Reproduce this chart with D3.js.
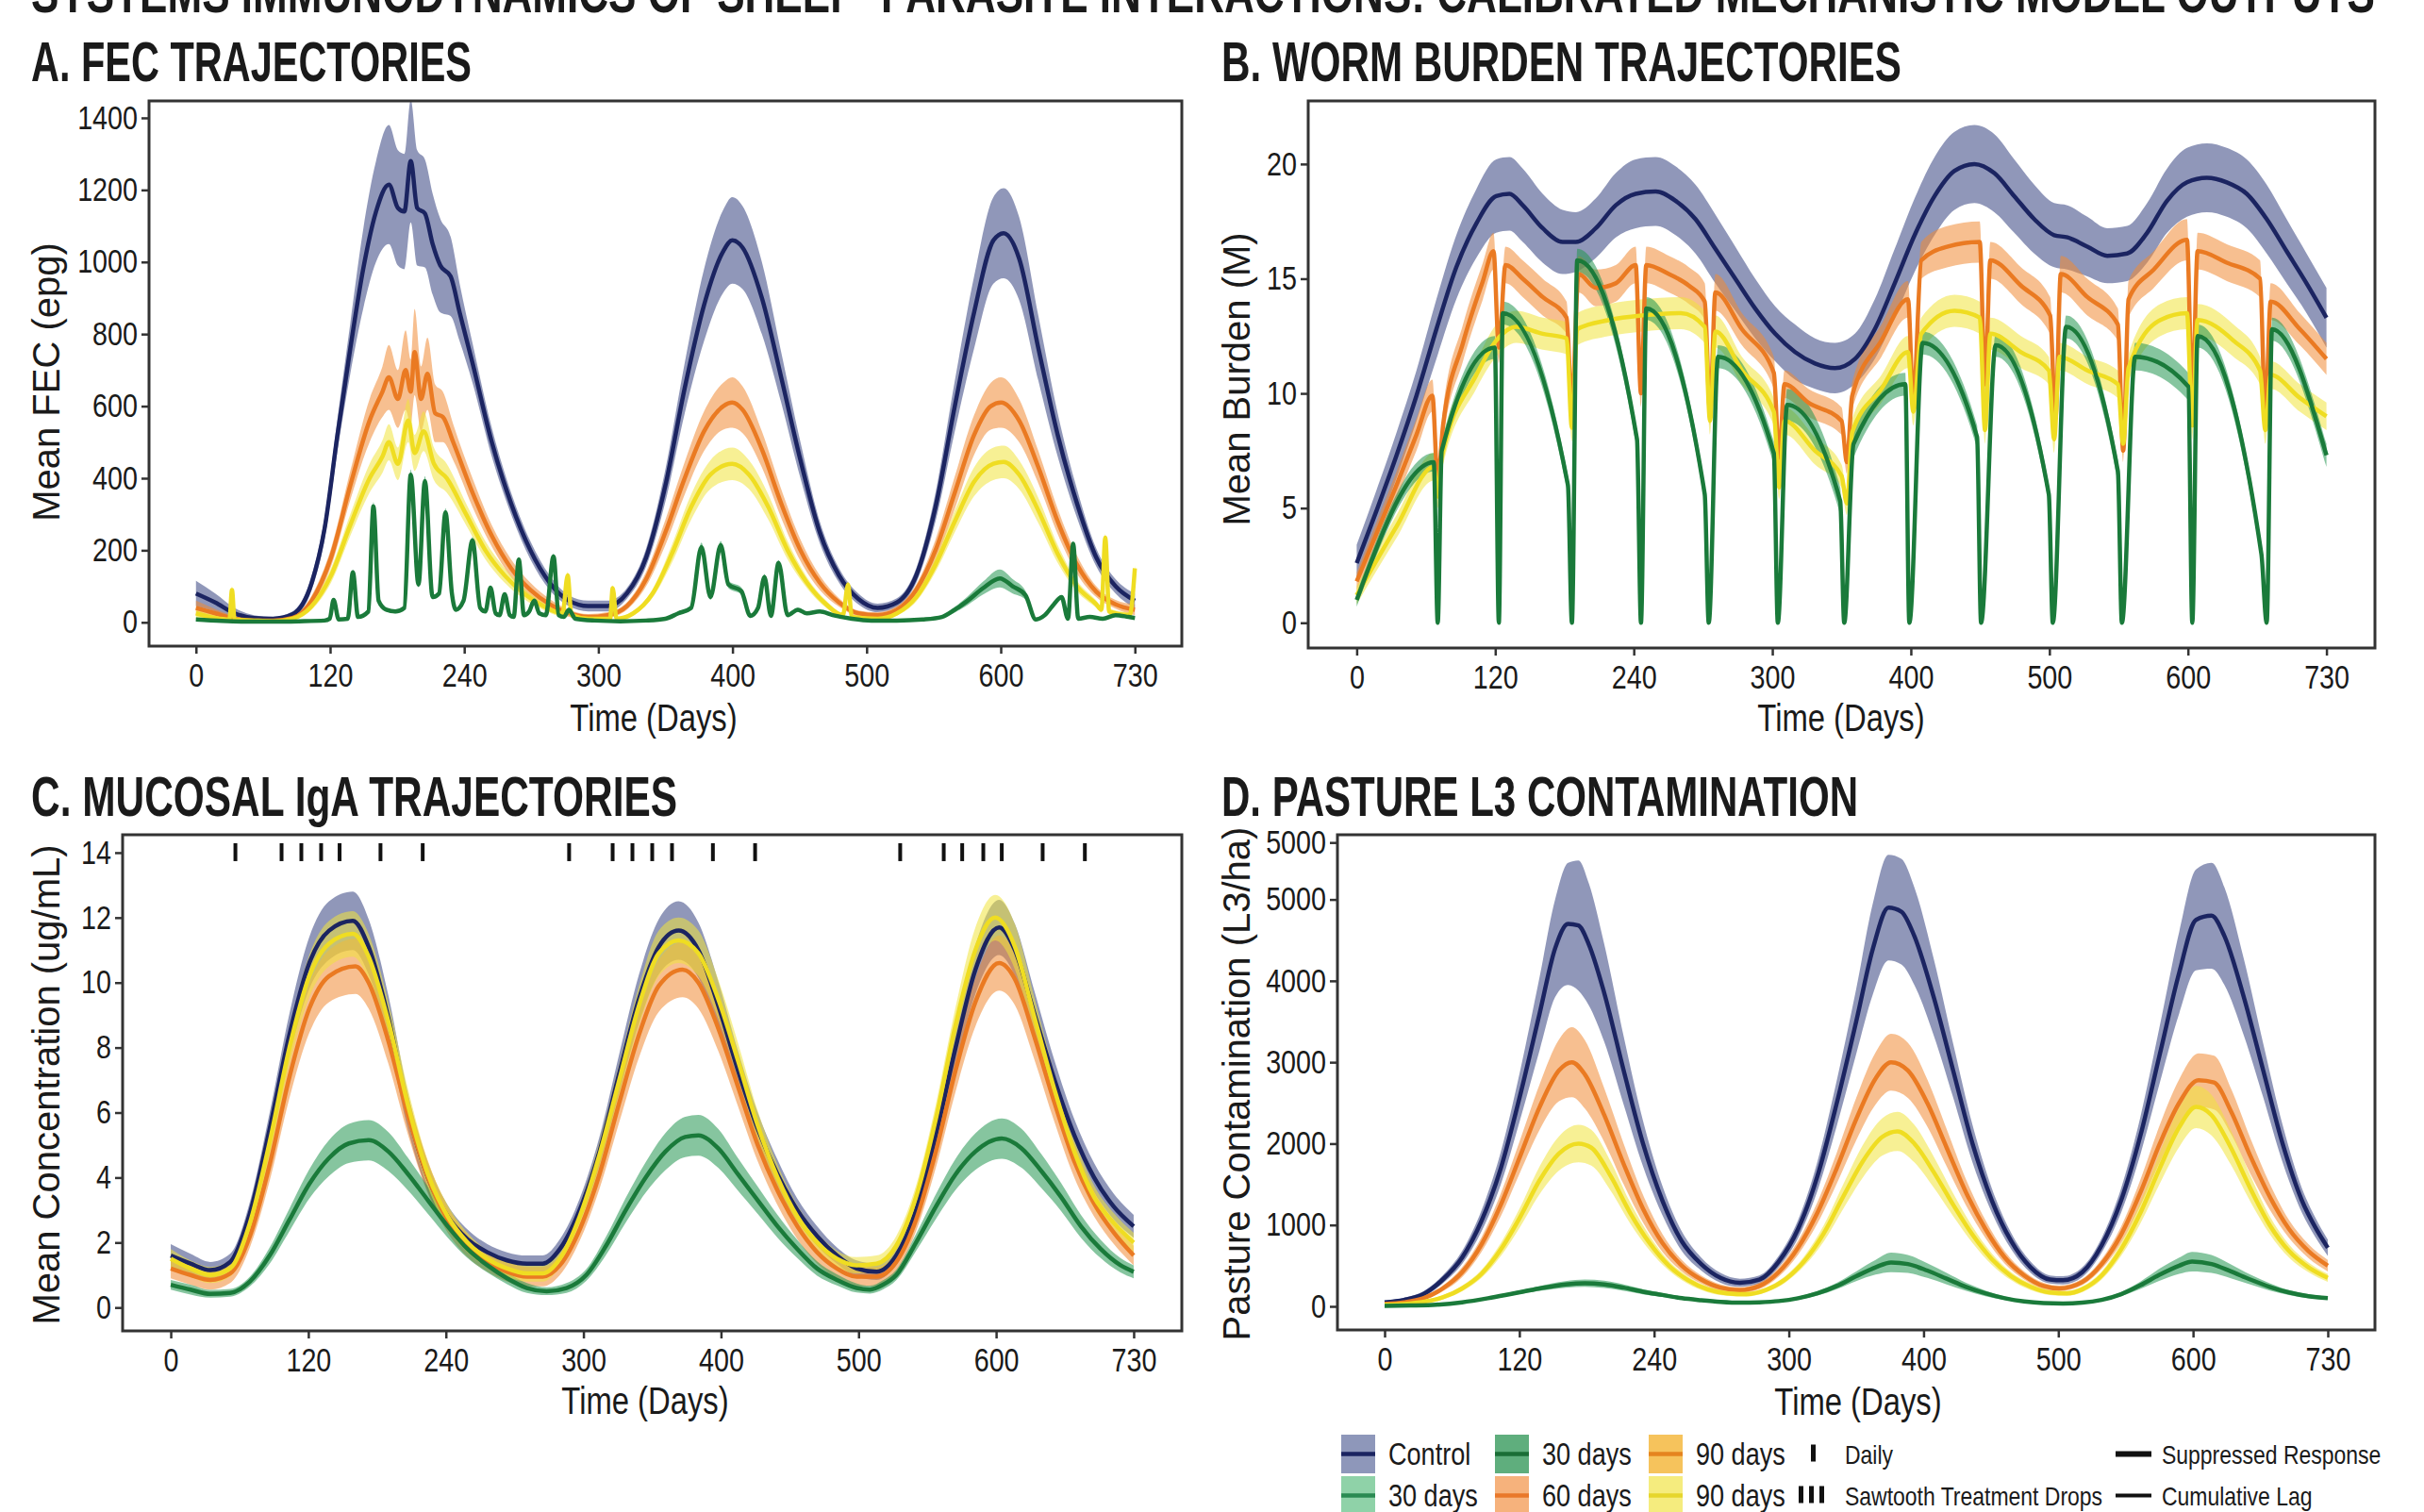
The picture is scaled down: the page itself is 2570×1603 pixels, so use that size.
<!DOCTYPE html>
<html>
<head>
<meta charset="utf-8">
<script src="https://cdn.jsdelivr.net/npm/d3@7"></script>
<style>
  body { margin: 0; background: #fff; }
  svg text { font-family: 'Liberation Sans', Arial, sans-serif; fill: #1a1a1a; }
</style>
</head>
<body>
<svg id="chart" width="2570" height="1603"></svg>
<script>
// x axis: days 0..730, eight evenly spaced breaks with these labels
var xTickLabels = ['0', '120', '240', '300', '400', '500', '600', '730'];

// ---- A. FEC (epg) : [day, mean, half-band]
var fecControl = [[0,80,35],[15,55,25],[30,25,15],[45,12,8],[60,10,5],[75,22,8],[90,110,20],[100,260,30],[110,520,45],[120,760,70],[130,980,110],[140,1140,140],[150,1215,165],[157,1150,160],[162,1140,160],[167,1280,170],[172,1150,160],[178,1135,150],[184,1050,140],[190,990,130],[198,960,110],[205,860,80],[215,720,55],[230,500,40],[245,330,30],[260,200,25],[275,110,20],[290,60,15],[305,45,15],[320,45,15],[335,80,15],[350,180,25],[365,380,45],[380,650,70],[395,880,100],[410,1030,115],[417,1060,120],[425,1040,115],[440,900,100],[455,680,70],[470,450,50],[485,250,30],[500,130,20],[515,65,15],[530,40,12],[545,55,12],[560,130,20],[575,320,40],[590,600,70],[605,860,100],[620,1060,120],[628,1080,125],[640,1010,115],[655,760,90],[670,520,60],[685,330,40],[700,180,25],[715,100,20],[730,60,20]];
var fec60 = [[0,40,20],[15,25,12],[30,10,8],[45,5,5],[60,5,5],[75,12,5],[90,60,15],[105,180,25],[120,380,40],[135,560,60],[145,640,70],[150,680,90],[157,620,80],[163,700,110],[167,640,90],[170,750,120],[175,620,90],[180,690,100],[186,580,80],[192,570,70],[200,500,50],[215,360,40],[230,240,30],[245,150,25],[260,90,20],[275,50,15],[290,25,10],[305,15,8],[320,20,8],[335,45,10],[350,120,20],[365,250,35],[380,400,45],[395,530,55],[410,600,65],[417,610,70],[425,590,65],[440,480,50],[455,330,40],[470,200,30],[485,110,20],[500,55,12],[515,25,8],[530,20,8],[545,35,10],[560,90,15],[575,200,30],[590,360,45],[605,520,55],[618,600,65],[626,610,70],[640,560,60],[655,430,45],[670,280,35],[685,160,25],[700,85,15],[715,50,12],[730,35,15]];
var fec90 = [[0,25,15],[15,12,8],[26,8,5],[28,90,10],[30,8,5],[45,5,4],[60,3,3],[75,10,4],[90,45,10],[105,130,20],[120,270,30],[135,400,40],[145,460,45],[150,500,50],[157,440,45],[165,560,60],[170,470,50],[177,530,55],[185,440,45],[195,400,40],[210,300,30],[225,200,25],[240,130,20],[255,80,15],[270,45,10],[285,25,8],[289,130,10],[292,20,6],[305,10,5],[322,10,5],[324,95,8],[327,10,5],[340,25,6],[355,80,12],[370,190,25],[385,320,35],[400,410,40],[417,440,45],[430,410,40],[445,320,35],[460,200,25],[475,110,15],[490,50,10],[503,20,6],[507,105,8],[510,15,5],[530,10,5],[545,25,6],[560,70,12],[575,160,20],[590,280,30],[605,390,40],[620,440,45],[628,445,45],[640,410,40],[655,310,35],[670,190,25],[685,100,15],[700,50,10],[704,35,8],[707,235,10],[710,30,8],[726,20,8],[730,150,10]];
var fec30 = [[0,8,5],[20,4,3],[40,2,2],[60,2,2],[80,3,2],[100,5,3],[104,10,3],[107,62,5],[111,8,3],[118,10,3],[122,139,8],[126,15,4],[134,30,5],[138,322,12],[142,60,6],[148,35,5],[155,30,5],[162,40,6],[167,410,14],[173,105,8],[178,392,14],[184,70,6],[189,80,6],[194,305,12],[199,80,6],[202,35,5],[208,60,5],[215,227,10],[221,40,5],[225,30,4],[229,96,6],[233,25,4],[236,20,4],[240,78,5],[244,20,4],[247,15,4],[251,174,8],[255,20,4],[259,30,4],[263,60,5],[267,25,4],[272,20,4],[278,183,8],[282,20,4],[286,15,4],[290,35,5],[295,10,3],[310,5,3],[330,3,2],[350,5,3],[365,10,3],[375,25,5],[385,40,6],[393,209,12],[400,70,8],[408,214,12],[414,105,10],[424,87,10],[431,18,6],[437,40,6],[442,126,8],[447,18,4],[453,165,8],[460,20,4],[468,35,5],[475,25,4],[485,30,4],[495,20,4],[510,10,3],[525,5,3],[545,5,3],[565,8,3],[580,15,4],[590,35,8],[600,60,12],[612,95,18],[625,122,25],[635,100,20],[645,75,12],[653,8,5],[660,20,4],[667,50,5],[673,70,5],[678,10,4],[682,218,8],[686,10,4],[695,15,4],[705,10,3],[715,20,4],[725,15,4],[730,12,4]];

// ---- B. worm burden (M)
var wormControl = [[0,2.6,0.8],[15,4.9,0.9],[30,7.3,1.0],[45,9.9,1.1],[60,12.8,1.3],[75,15.5,1.4],[90,17.4,1.5],[105,18.6,1.6],[115,18.7,1.6],[125,18.2,1.6],[140,17.2,1.5],[155,16.6,1.4],[165,16.6,1.3],[180,17.2,1.3],[195,18.2,1.4],[210,18.7,1.5],[225,18.8,1.5],[240,18.4,1.5],[255,17.6,1.5],[270,16.3,1.5],[285,15.0,1.4],[300,13.7,1.3],[315,12.6,1.2],[330,11.8,1.2],[345,11.3,1.1],[360,11.1,1.1],[375,11.5,1.1],[390,12.8,1.3],[405,14.8,1.5],[420,16.9,1.6],[435,18.6,1.7],[450,19.7,1.7],[465,20.0,1.7],[480,19.6,1.7],[495,18.6,1.6],[510,17.6,1.5],[525,16.9,1.4],[535,16.8,1.4],[550,16.4,1.3],[565,16.0,1.2],[580,16.1,1.2],[595,17.0,1.3],[610,18.4,1.4],[625,19.2,1.5],[640,19.4,1.5],[655,19.2,1.5],[670,18.7,1.5],[685,17.6,1.5],[700,16.2,1.4],[715,14.8,1.3],[730,13.3,1.3]];
var worm60 = [[0,1.8,0.4],[15,3.9,0.5],[30,6.0,0.6],[45,8.2,0.7],[57,9.9,0.7],[61,6.2,0.6],[65,8.6,0.7],[80,12.2,0.8],[95,14.9,0.8],[103,16.2,0.8],[107,12.0,0.7],[112,15.6,0.8],[125,15.0,0.8],[140,14.2,0.8],[158,13.3,0.7],[162,9.5,0.6],[167,15.2,0.8],[180,14.6,0.8],[195,14.8,0.8],[210,15.6,0.8],[214,10.0,0.6],[218,15.6,0.8],[235,15.2,0.8],[250,14.7,0.8],[262,14.0,0.8],[266,9.2,0.6],[270,14.4,0.8],[290,12.8,0.7],[314,10.9,0.7],[318,7.2,0.5],[322,10.4,0.6],[340,9.6,0.6],[365,8.8,0.6],[369,7.0,0.5],[373,9.9,0.6],[395,12.3,0.7],[415,14.1,0.8],[419,9.7,0.6],[425,15.8,0.8],[445,16.4,0.9],[469,16.6,0.9],[473,10.4,0.6],[477,15.8,0.8],[500,14.7,0.8],[522,13.4,0.8],[526,8.9,0.6],[530,15.2,0.8],[550,14.2,0.8],[573,13.0,0.7],[577,7.5,0.5],[581,14.1,0.8],[600,15.4,0.8],[625,16.7,0.9],[629,9.8,0.6],[633,16.2,0.8],[655,15.7,0.8],[680,15.0,0.8],[684,9.1,0.6],[688,14.0,0.8],[710,12.8,0.7],[730,11.5,0.7]];
var worm90 = [[0,1.2,0.4],[30,4.2,0.5],[58,6.8,0.6],[61,5.5,0.5],[64,7.2,0.6],[90,10.8,0.6],[105,12.3,0.7],[120,12.9,0.7],[140,12.6,0.7],[158,12.4,0.7],[162,8.5,0.6],[166,12.8,0.7],[190,13.2,0.7],[215,13.4,0.7],[244,13.5,0.7],[262,12.9,0.7],[266,8.8,0.6],[270,12.7,0.7],[290,11.0,0.6],[314,9.2,0.6],[318,5.9,0.5],[322,8.8,0.6],[345,7.5,0.6],[365,6.4,0.5],[369,5.2,0.5],[373,8.3,0.6],[395,10.2,0.6],[415,11.8,0.7],[419,9.2,0.6],[425,12.6,0.7],[450,13.6,0.7],[469,13.3,0.7],[473,8.4,0.6],[477,12.6,0.7],[500,11.8,0.7],[521,11.0,0.6],[525,8.0,0.6],[529,11.6,0.6],[550,11.0,0.6],[573,10.4,0.6],[577,7.8,0.5],[581,11.1,0.6],[605,13.2,0.7],[625,13.5,0.7],[629,8.6,0.6],[633,13.2,0.7],[660,12.3,0.7],[680,11.0,0.6],[684,8.4,0.6],[688,10.8,0.6],[710,9.8,0.6],[730,9.0,0.6]];
var worm30 = [[0,1.0,0.3],[58,7.0,0.4],[61,0,0],[64,7.5,0.4],[104,12.0,0.5],[107,0,0],[110,13.5,0.5],[159,6.0,0.4],[162,0,0],[166,15.8,0.5],[211,8.0,0.4],[214,0,0],[218,13.7,0.5],[262,5.6,0.4],[265,0,0],[272,11.6,0.5],[314,7.4,0.5],[317,0,0],[324,9.5,0.7],[364,5.3,0.6],[367,0,0],[374,7.8,0.6],[413,10.4,0.5],[416,0,0],[426,12.2,0.5],[467,8.1,0.5],[470,0,0],[481,12.1,0.5],[521,5.6,0.4],[524,0,0],[534,12.9,0.5],[573,6.6,0.5],[576,0,0],[586,11.6,0.6],[626,10.3,0.6],[629,0,0],[633,12.5,0.5],[681,3.0,0.4],[685,0,0],[689,12.8,0.5],[730,7.3,0.5]];

// ---- C. mucosal IgA (ug/mL)
var igaControl = [[0,1.6,0.35],[15,1.35,0.3],[30,1.15,0.25],[45,1.4,0.25],[60,2.9,0.35],[75,5.5,0.5],[90,8.4,0.65],[105,10.6,0.8],[120,11.6,0.9],[138,11.9,0.9],[150,11.1,0.85],[165,8.9,0.7],[180,6.0,0.55],[195,4.0,0.45],[210,2.8,0.35],[225,2.1,0.3],[240,1.7,0.25],[255,1.45,0.25],[270,1.35,0.25],[282,1.35,0.25],[295,1.8,0.3],[310,3.0,0.35],[325,4.8,0.45],[340,7.2,0.6],[355,9.5,0.75],[370,11.1,0.85],[385,11.6,0.9],[400,11.0,0.85],[415,9.3,0.75],[430,7.3,0.6],[445,5.5,0.5],[460,4.1,0.45],[475,3.0,0.35],[490,2.2,0.3],[505,1.6,0.25],[520,1.2,0.25],[535,1.1,0.25],[550,1.6,0.25],[565,3.0,0.35],[580,5.3,0.45],[595,8.0,0.6],[610,10.4,0.75],[628,11.7,0.85],[640,11.0,0.8],[655,9.0,0.7],[670,7.0,0.6],[685,5.3,0.5],[700,4.0,0.45],[715,3.1,0.4],[730,2.5,0.35]];
var iga60 = [[0,1.2,0.3],[15,1.0,0.3],[30,0.85,0.3],[45,1.05,0.3],[60,2.2,0.35],[75,4.4,0.5],[90,7.1,0.65],[105,9.2,0.75],[120,10.2,0.8],[140,10.5,0.85],[150,10.0,0.8],[165,8.2,0.7],[180,5.9,0.6],[195,4.0,0.5],[210,2.7,0.4],[225,1.9,0.35],[240,1.4,0.3],[255,1.1,0.3],[270,0.95,0.3],[282,0.95,0.3],[295,1.3,0.3],[310,2.4,0.35],[325,4.1,0.45],[340,6.3,0.6],[355,8.4,0.7],[370,9.9,0.8],[388,10.4,0.85],[400,10.0,0.8],[415,8.6,0.7],[430,6.8,0.6],[445,5.0,0.5],[460,3.6,0.45],[475,2.5,0.4],[490,1.7,0.35],[505,1.2,0.3],[520,0.95,0.3],[535,0.95,0.3],[550,1.4,0.3],[565,2.7,0.35],[580,4.8,0.5],[595,7.3,0.65],[610,9.4,0.75],[628,10.6,0.85],[640,10.1,0.8],[655,8.3,0.7],[670,6.3,0.6],[685,4.5,0.5],[700,3.2,0.4],[715,2.3,0.35],[730,1.6,0.3]];
var iga90 = [[0,1.5,0.3],[15,1.2,0.25],[30,1.0,0.25],[45,1.2,0.25],[60,2.6,0.3],[75,5.1,0.45],[90,8.0,0.55],[105,10.2,0.65],[120,11.2,0.7],[138,11.5,0.7],[150,10.8,0.7],[165,8.8,0.6],[180,6.2,0.5],[195,4.1,0.4],[210,2.8,0.35],[225,2.0,0.3],[240,1.5,0.25],[255,1.2,0.25],[270,1.05,0.25],[282,1.05,0.25],[295,1.5,0.25],[310,2.8,0.35],[325,4.7,0.4],[340,7.0,0.5],[355,9.3,0.6],[370,10.9,0.7],[385,11.3,0.7],[400,10.9,0.7],[415,9.5,0.6],[430,7.6,0.55],[445,5.6,0.45],[460,4.0,0.4],[475,2.8,0.35],[490,2.0,0.3],[505,1.5,0.25],[520,1.3,0.25],[535,1.35,0.25],[550,1.9,0.3],[565,3.4,0.35],[580,5.8,0.45],[595,8.7,0.55],[610,11.0,0.7],[625,12.0,0.7],[640,11.1,0.7],[655,8.9,0.6],[670,6.7,0.5],[685,4.8,0.4],[700,3.4,0.35],[715,2.6,0.3],[730,2.0,0.3]];
var iga30 = [[0,0.7,0.15],[15,0.55,0.15],[30,0.42,0.12],[45,0.45,0.12],[60,0.8,0.15],[75,1.6,0.25],[90,2.7,0.35],[105,3.8,0.45],[120,4.6,0.55],[135,5.05,0.6],[150,5.15,0.62],[165,4.8,0.6],[180,4.1,0.5],[195,3.3,0.42],[210,2.5,0.35],[225,1.8,0.28],[240,1.3,0.22],[255,0.9,0.18],[270,0.6,0.15],[285,0.5,0.12],[300,0.6,0.15],[315,1.0,0.18],[330,1.9,0.28],[345,3.0,0.38],[360,4.0,0.47],[375,4.8,0.57],[390,5.25,0.62],[400,5.3,0.63],[415,4.9,0.6],[430,4.1,0.5],[445,3.3,0.42],[460,2.5,0.35],[475,1.8,0.28],[490,1.2,0.22],[505,0.85,0.17],[520,0.6,0.14],[530,0.55,0.12],[540,0.7,0.14],[550,1.0,0.16],[565,2.0,0.26],[580,3.1,0.38],[595,4.1,0.48],[610,4.8,0.56],[630,5.2,0.62],[645,4.9,0.6],[660,4.2,0.52],[675,3.4,0.43],[690,2.5,0.35],[705,1.8,0.28],[720,1.3,0.22],[730,1.1,0.2]];
var igaDailyDays = [49, 84, 99, 114, 128, 159, 191, 302, 335, 350, 365, 380, 411, 443, 553, 586, 600, 616, 630, 661, 693];

// ---- D. pasture L3 (L3/ha)
var l3Control = [[0,50,20],[15,80,25],[30,150,35],[45,330,50],[60,600,80],[75,1050,130],[90,1700,200],[105,2600,300],[120,3600,450],[132,4400,600],[142,4700,750],[150,4680,800],[158,4450,750],[170,3850,600],[185,2900,420],[200,2000,280],[215,1300,180],[230,800,120],[245,520,80],[260,350,60],[275,290,50],[290,330,50],[305,550,70],[320,950,110],[335,1600,180],[350,2500,280],[365,3500,400],[378,4400,560],[390,4900,650],[400,4850,650],[410,4550,600],[425,3800,470],[440,2900,330],[455,2000,230],[470,1300,150],[485,800,100],[500,480,70],[515,330,50],[525,320,50],[540,420,60],[555,750,90],[570,1300,150],[585,2100,230],[600,3100,350],[615,4100,500],[628,4750,620],[640,4800,650],[650,4550,600],[665,3800,470],[680,2900,330],[695,2000,230],[710,1300,150],[720,980,120],[730,720,100]];
var l360 = [[0,30,15],[15,50,20],[30,100,25],[45,220,35],[60,420,60],[75,760,90],[90,1250,140],[105,1850,200],[120,2450,280],[135,2900,380],[145,3000,430],[155,2850,420],[170,2350,330],[185,1750,250],[200,1200,170],[215,780,110],[230,500,70],[245,330,50],[260,230,40],[275,200,35],[290,250,40],[305,420,55],[320,720,85],[335,1150,130],[350,1700,190],[365,2300,260],[380,2800,320],[392,3000,350],[405,2900,340],[420,2500,290],[435,1950,230],[450,1400,160],[465,950,110],[480,600,75],[495,380,50],[510,250,40],[522,220,35],[540,300,40],[555,520,60],[570,880,100],[585,1400,160],[600,2000,230],[615,2500,290],[630,2780,330],[642,2750,330],[655,2400,280],[670,1850,220],[685,1350,160],[700,950,110],[715,680,85],[730,500,70]];
var l390 = [[0,20,10],[15,30,15],[30,55,20],[45,110,25],[60,220,35],[75,400,50],[90,700,80],[105,1100,120],[120,1550,170],[135,1880,210],[150,2000,230],[160,1950,220],[175,1600,180],[190,1150,130],[205,780,90],[220,500,60],[235,320,45],[250,210,35],[265,160,30],[280,150,30],[295,200,30],[310,330,40],[325,560,60],[340,900,100],[355,1350,150],[370,1780,200],[385,2080,230],[397,2150,240],[410,2000,230],[425,1650,190],[440,1250,140],[455,880,100],[470,580,70],[485,370,50],[500,240,40],[515,170,30],[528,160,30],[540,210,35],[555,380,50],[570,700,80],[585,1150,130],[600,1700,190],[615,2200,240],[628,2450,260],[640,2350,250],[655,1950,210],[670,1450,160],[685,1000,110],[700,680,80],[715,480,60],[730,350,50]];
var l330 = [[0,5,5],[20,10,5],[40,20,6],[60,50,10],[80,100,15],[100,160,22],[120,220,30],[140,270,40],[155,285,45],[170,270,45],[185,230,40],[200,180,32],[215,140,25],[230,100,20],[245,75,15],[260,55,12],[275,45,10],[290,50,10],[305,65,12],[320,100,18],[335,160,28],[350,250,40],[365,370,60],[380,480,90],[392,540,120],[405,520,110],[420,440,90],[435,340,70],[450,240,50],[465,160,35],[480,100,22],[495,60,15],[510,40,10],[525,35,10],[540,45,10],[555,80,15],[570,150,25],[585,260,45],[600,390,75],[615,500,100],[625,550,120],[640,520,110],[655,430,85],[670,330,60],[685,240,45],[700,170,30],[715,125,25],[730,100,20]];

var fecTicks = [0, 200, 400, 600, 800, 1000, 1200, 1400];
var wormTicks = [0, 5, 10, 15, 20];
var igaTicks = [0, 2, 4, 6, 8, 10, 12, 14];
var l3Ticks = [0, 1000, 2000, 3000, 4000, 5000, 5700];
var l3TickLabels = ['0', '1000', '2000', '3000', '4000', '5000', '5000'];

var colors = {
  control: { line: '#1b2461', band: '#34427f' },
  d30:     { line: '#1a7a3a', band: '#239550' },
  d60:     { line: '#ea7a22', band: '#f08a35' },
  d90:     { line: '#efdd22', band: '#f1e43c' }
};
var bandOpacity = 0.55;
var narrowK = 0.82;   // condensed look of the original labels

var svg = d3.select('#chart');
var xDomain = [-36.5, 766.5];
var xTickValues = xTickLabels.map(function(d, i) { return i * 730 / 7; });

// squeeze text horizontally (no condensed font installed)
function narrow(sel) {
  sel.each(function() {
    var len = this.getComputedTextLength();
    d3.select(this).attr('textLength', len * narrowK).attr('lengthAdjust', 'spacingAndGlyphs');
  });
}

var panels = [
  { id: 'A', title: 'A. FEC TRAJECTORIES', titleW: 467, titleX: 33, titleY: 86,
    box: [158, 107, 1253, 685], yDomain: [-66, 1447], yTicks: fecTicks,
    yLabel: 'Mean FEC (epg)', yLabelPos: [49, 405], xLabelPos: [693, 775],
    series: [['control', fecControl], ['d60', fec60], ['d90', fec90], ['d30', fec30]] },
  { id: 'B', title: 'B. WORM BURDEN TRAJECTORIES', titleW: 721, titleX: 1295, titleY: 86,
    box: [1387, 107, 2518, 687], yDomain: [-1.1, 22.75], yTicks: wormTicks,
    yLabel: 'Mean Burden (M)', yLabelPos: [1311, 402], xLabelPos: [1952, 775],
    series: [['control', wormControl], ['d60', worm60], ['d90', worm90], ['d30', worm30]] },
  { id: 'C', title: 'C. MUCOSAL IgA TRAJECTORIES', titleW: 685, titleX: 33, titleY: 865,
    box: [130, 885, 1253, 1411], yDomain: [-0.72, 14.55], yTicks: igaTicks,
    yLabel: 'Mean Concentration (ug/mL)', yLabelPos: [49, 1150], xLabelPos: [684, 1499],
    series: [['control', igaControl], ['d60', iga60], ['d30', iga30], ['d90', iga90]], rug: igaDailyDays },
  { id: 'D', title: 'D. PASTURE L3 CONTAMINATION', titleW: 675, titleX: 1295, titleY: 865,
    box: [1418, 885, 2518, 1410], yDomain: [-290, 5795], yTicks: l3Ticks, yTickLabels: l3TickLabels,
    yLabel: 'Pasture Contamination (L3/ha)', yLabelPos: [1311, 1149], xLabelPos: [1970, 1500],
    series: [['control', l3Control], ['d60', l360], ['d90', l390], ['d30', l330]] }
];

// title across the top, cut off by the page edge
svg.append('text')
  .attr('x', 33).attr('y', 13)
  .attr('font-size', 60).attr('font-weight', 'bold')
  .attr('textLength', 2485).attr('lengthAdjust', 'spacingAndGlyphs')
  .text('SYSTEMS IMMUNODYNAMICS OF SHEEP\u2013PARASITE INTERACTIONS: CALIBRATED MECHANISTIC MODEL OUTPUTS');

function drawPanel(p) {
  var left = p.box[0], top = p.box[1], right = p.box[2], bottom = p.box[3];
  var x = d3.scaleLinear().domain(xDomain).range([left, right]);
  var y = d3.scaleLinear().domain(p.yDomain).range([bottom, top]);

  svg.append('text')
    .attr('x', p.titleX).attr('y', p.titleY)
    .attr('font-size', 60).attr('font-weight', 'bold')
    .attr('textLength', p.titleW).attr('lengthAdjust', 'spacingAndGlyphs')
    .text(p.title);

  svg.append('clipPath').attr('id', 'clip' + p.id)
    .append('rect').attr('x', left).attr('y', top)
    .attr('width', right - left).attr('height', bottom - top);

  var plot = svg.append('g').attr('clip-path', 'url(#clip' + p.id + ')');

  var area = d3.area().curve(d3.curveMonotoneX)
    .x(function(d) { return x(d[0]); })
    .y0(function(d) { return y(d[1] - d[2]); })
    .y1(function(d) { return y(d[1] + d[2]); });
  var line = d3.line().curve(d3.curveMonotoneX)
    .x(function(d) { return x(d[0]); })
    .y(function(d) { return y(d[1]); });

  p.series.forEach(function(s) {
    plot.append('path').datum(s[1])
      .attr('d', area)
      .attr('fill', colors[s[0]].band)
      .attr('fill-opacity', bandOpacity);
  });
  p.series.forEach(function(s) {
    plot.append('path').datum(s[1])
      .attr('d', line)
      .attr('fill', 'none')
      .attr('stroke', colors[s[0]].line)
      .attr('stroke-width', 4.5)
      .attr('stroke-linejoin', 'round');
  });

  if (p.rug) {
    plot.selectAll('.rug').data(p.rug).enter().append('rect')
      .attr('x', function(d) { return x(d) - 2; })
      .attr('y', y(14) - 10)
      .attr('width', 4).attr('height', 19)
      .attr('fill', '#111');
  }

  svg.append('rect')
    .attr('x', left).attr('y', top)
    .attr('width', right - left).attr('height', bottom - top)
    .attr('fill', 'none').attr('stroke', '#333').attr('stroke-width', 3);

  var xAxis = svg.append('g')
    .attr('transform', 'translate(0,' + bottom + ')')
    .call(d3.axisBottom(x).tickValues(xTickValues)
      .tickFormat(function(d, i) { return xTickLabels[i]; })
      .tickSize(8).tickPadding(10));
  var yAxis = svg.append('g')
    .attr('transform', 'translate(' + left + ',0)')
    .call(d3.axisLeft(y).tickValues(p.yTicks)
      .tickFormat(function(d, i) { return p.yTickLabels ? p.yTickLabels[i] : d; })
      .tickSize(8).tickPadding(4));

  [xAxis, yAxis].forEach(function(a) {
    a.select('.domain').remove();
    a.selectAll('line').attr('stroke', '#333').attr('stroke-width', 2.5);
    a.selectAll('text').attr('font-size', 35).attr('fill', '#1a1a1a')
      .attr('font-family', "'Liberation Sans', Arial, sans-serif")
      .call(narrow);
  });

  svg.append('text')
    .attr('x', p.xLabelPos[0]).attr('y', p.xLabelPos[1])
    .attr('text-anchor', 'middle').attr('font-size', 40)
    .text('Time (Days)')
    .call(narrow);

  svg.append('text')
    .attr('transform', 'translate(' + p.yLabelPos[0] + ',' + p.yLabelPos[1] + ') rotate(-90)')
    .attr('text-anchor', 'middle').attr('dy', '0.35em')
    .attr('font-size', 40)
    .text(p.yLabel);
}

panels.forEach(drawPanel);

// legend at the bottom right
var legendKeys = [
  { label: 'Control', fill: '#8e97ba', line: '#1b2461', col: 0, row: 0 },
  { label: '30 days', fill: '#5fae7d', line: '#1a6e36', col: 1, row: 0 },
  { label: '90 days', fill: '#f6c35c', line: '#e5841f', col: 2, row: 0 },
  { label: '30 days', fill: '#8fd2a8', line: '#2a8a52', col: 0, row: 1 },
  { label: '60 days', fill: '#f6b27c', line: '#e9782a', col: 1, row: 1 },
  { label: '90 days', fill: '#f5ec7e', line: '#e6d62c', col: 2, row: 1 }
];
var legendCols = [1422, 1585, 1748];
var legendRows = [1521, 1565];
var legend = svg.append('g');

legendKeys.forEach(function(k) {
  var kx = legendCols[k.col], ky = legendRows[k.row];
  legend.append('rect').attr('x', kx).attr('y', ky)
    .attr('width', 36).attr('height', 41).attr('fill', k.fill);
  legend.append('line').attr('x1', kx).attr('x2', kx + 36)
    .attr('y1', ky + 20.5).attr('y2', ky + 20.5)
    .attr('stroke', k.line).attr('stroke-width', 4.5);
  legend.append('text').attr('x', kx + 50).attr('y', ky + 32)
    .attr('font-size', 33).text(k.label).call(narrow);
});

var markTypes = [
  { label: 'Daily', bars: 1, row: 0 },
  { label: 'Sawtooth Treatment Drops', bars: 3, row: 1 }
];
markTypes.forEach(function(m) {
  var cy = legendRows[m.row] + 20.5;
  d3.range(m.bars).forEach(function(i) {
    legend.append('rect')
      .attr('x', m.bars === 1 ? 1920 : 1907 + i * 11).attr('y', cy - 10)
      .attr('width', 5).attr('height', 18).attr('fill', '#111');
  });
  legend.append('text').attr('x', 1956).attr('y', cy + 10)
    .attr('font-size', 28).text(m.label).call(narrow);
});

var lineTypes = [
  { label: 'Suppressed Response', width: 6, row: 0 },
  { label: 'Cumulative Lag', width: 4, row: 1 }
];
lineTypes.forEach(function(l) {
  var cy = legendRows[l.row] + 20.5;
  legend.append('line').attr('x1', 2243).attr('x2', 2281)
    .attr('y1', cy).attr('y2', cy)
    .attr('stroke', '#111').attr('stroke-width', l.width);
  legend.append('text').attr('x', 2292).attr('y', cy + 10)
    .attr('font-size', 28).text(l.label).call(narrow);
});
</script>
</body>
</html>
